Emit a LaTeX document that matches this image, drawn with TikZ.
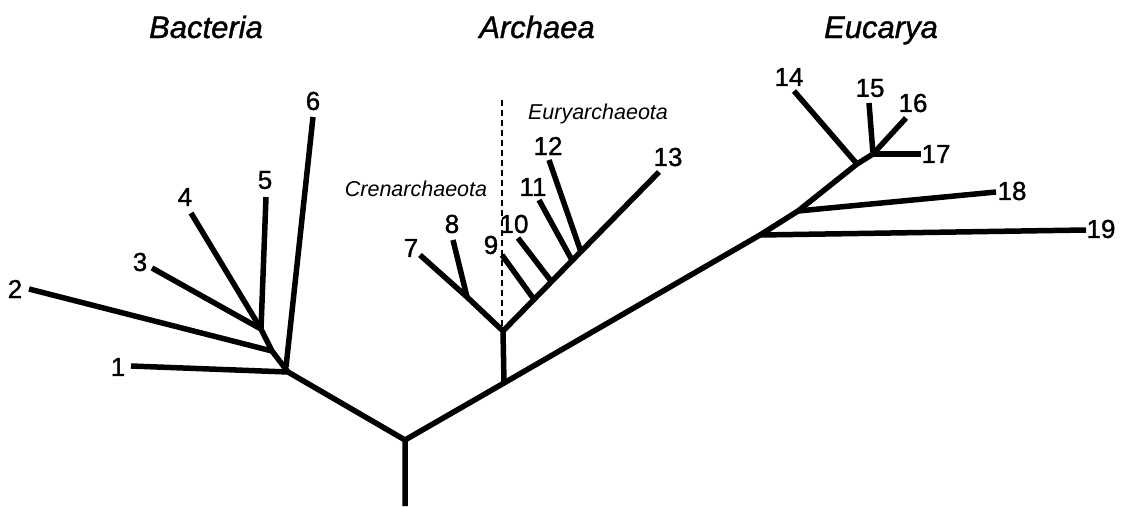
\documentclass[tikz,border=0pt]{standalone}
\usepackage{fontspec}
\setmainfont{Liberation Sans}
\newfontfamily\heavyfont[FakeBold=1.2]{Liberation Sans}
\begin{document}
\begin{tikzpicture}[x=1pt,y=-1pt,
  branch/.style={line width=5.5pt, line cap=butt, line join=round},
  num/.style={font=\heavyfont\fontsize{26}{26}\selectfont, inner sep=0pt},
  title/.style={font=\heavyfont\fontsize{31}{31}\selectfont\itshape, inner sep=0pt, anchor=base},
  sub/.style={font=\fontsize{21.5}{21.5}\selectfont\itshape, inner sep=0pt, anchor=base},
  divider/.style={line width=1.3pt, dash pattern=on 6pt off 4pt}]
\useasboundingbox (0,0) rectangle (1121,506);
% main skeleton
\coordinate (base) at (405,506);
\coordinate (root) at (405,440);
\coordinate (B0) at (288,372);
\coordinate (A0) at (504,383);
\coordinate (A1) at (503,331);
\coordinate (E0) at (760,235);
\coordinate (E1) at (798,211);
\coordinate (E2) at (857,164);
\coordinate (E3) at (873,154);
% bacteria
\coordinate (B1) at (272,351);
\coordinate (B2) at (261,329);
\coordinate (B6b) at (286,367);
\coordinate (L1) at (131,366);
\coordinate (L2) at (29,289);
\coordinate (L3) at (152,268);
\coordinate (L4) at (191,213);
\coordinate (L5) at (266,197);
\coordinate (L6) at (313,117);
% archaea
\coordinate (C0) at (467,297);
\coordinate (L7) at (420,255);
\coordinate (L8) at (453,240);
\coordinate (Y9) at (533,298);
\coordinate (Y10) at (551,281);
\coordinate (Y11) at (573,262);
\coordinate (Y12) at (581,252);
\coordinate (L9) at (502,255);
\coordinate (L10) at (518,238);
\coordinate (L11) at (539,200);
\coordinate (L12) at (549,160);
\coordinate (L13) at (659,172);
% eucarya
\coordinate (L14) at (794,91);
\coordinate (L15) at (869,103);
\coordinate (L16) at (906,118);
\coordinate (L17) at (921,154);
\coordinate (L18) at (996,192);
\coordinate (L19) at (1086,230);
\coordinate (dtop) at (502,100);
\coordinate (dbot) at (502,331);

\draw[divider] (dtop) -- (dbot);

\draw[branch] (base) -- (root) -- (B0);
\draw[branch] (root) -- (A0) -- (E0) -- (E1) -- (E2) -- (E3);
\draw[branch] (B0) -- (B1) -- (B2);
\draw[branch] (B0) -- (L1);
\draw[branch] (B1) -- (L2);
\draw[branch] (B2) -- (L3);
\draw[branch] (B2) -- (L4);
\draw[branch] (B2) -- (L5);
\draw[branch] (B6b) -- (L6);
\draw[branch] (A0) -- (A1) -- (C0) -- (L7);
\draw[branch] (C0) -- (L8);
\draw[branch] (A1) -- (L13);
\draw[branch] (Y9) -- (L9);
\draw[branch] (Y10) -- (L10);
\draw[branch] (Y11) -- (L11);
\draw[branch] (Y12) -- (L12);
\draw[branch] (E0) -- (L19);
\draw[branch] (E1) -- (L18);
\draw[branch] (E2) -- (L14);
\draw[branch] (E3) -- (L15);
\draw[branch] (E3) -- (L16);
\draw[branch] (E3) -- (L17);

% labels
\node[num] (n1) at (118,367) {1};
\node[num] (n2) at (15,289) {2};
\node[num] (n3) at (140,262) {3};
\node[num] (n4) at (185,197) {4};
\node[num] (n5) at (265,180) {5};
\node[num] (n6) at (313,101) {6};
\node[num] (n7) at (411,248) {7};
\node[num] (n8) at (452,224) {8};
\node[num] (n9) at (491,245) {9};
\node[num] (n10) at (514,224) {10};
\node[num] (n11) at (533,187) {11};
\node[num] (n12) at (548,146) {12};
\node[num] (n13) at (668,157) {13};
\node[num] (n14) at (789,77) {14};
\node[num] (n15) at (870,88) {15};
\node[num] (n16) at (913,103) {16};
\node[num] (n17) at (936,154) {17};
\node[num] (n18) at (1012,191) {18};
\node[num] (n19) at (1101,229) {19};

\node[title] (tb) at (206,38) {Bacteria};
\node[title] (ta) at (537,38) {Archaea};
\node[title] (te) at (881,38) {Eucarya};
\node[sub] (tc) at (416,196) {Crenarchaeota};
\node[sub] (ty) at (598,119) {Euryarchaeota};
\end{tikzpicture}
\end{document}
